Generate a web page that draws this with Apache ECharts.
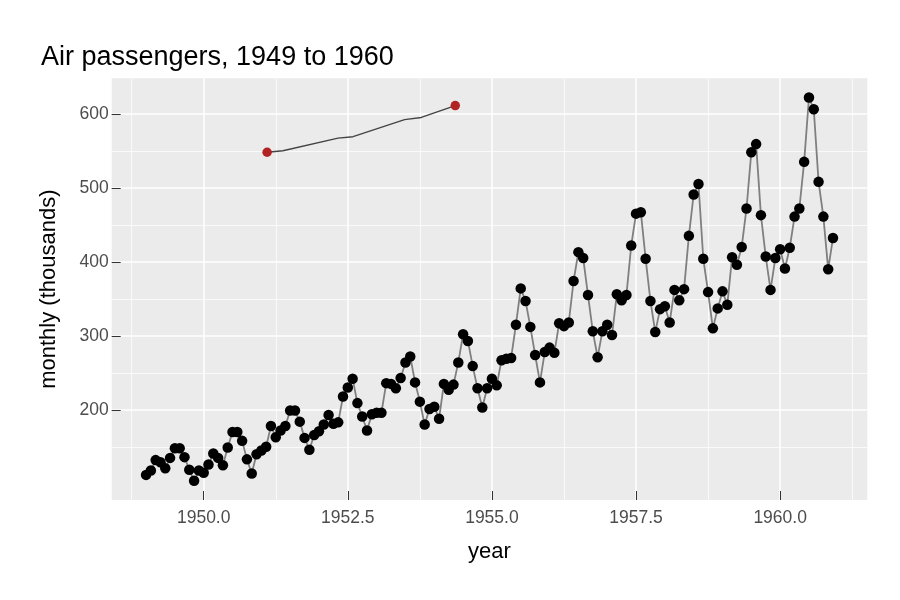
<!DOCTYPE html>
<html>
<head>
<meta charset="utf-8">
<script src="https://cdn.jsdelivr.net/npm/echarts@6/dist/echarts.min.js"></script>
<style>
  html, body { margin: 0; background: #fff; }
  #chart { width: 900px; height: 600px; }
</style>
</head>
<body>
<div id="chart"></div>
<script>
// monthly totals, Jan 1949 .. Dec 1960 (thousands)
const startYear = 1949;
const passengers = [
  112, 118, 132, 129, 121, 135, 148, 148, 136, 119, 104, 118,
  115, 126, 141, 135, 125, 149, 170, 170, 158, 133, 114, 140,
  145, 150, 178, 163, 172, 178, 199, 199, 184, 162, 146, 166,
  171, 180, 193, 181, 183, 218, 230, 242, 209, 191, 172, 194,
  196, 196, 236, 235, 229, 243, 264, 272, 237, 211, 180, 201,
  204, 188, 235, 227, 234, 264, 302, 293, 259, 229, 203, 229,
  242, 233, 267, 269, 270, 315, 364, 347, 312, 274, 237, 278,
  284, 277, 317, 313, 318, 374, 413, 405, 355, 306, 271, 306,
  315, 301, 356, 348, 355, 422, 465, 467, 404, 347, 305, 336,
  340, 318, 362, 348, 363, 435, 491, 505, 404, 359, 310, 337,
  360, 342, 406, 396, 420, 472, 548, 559, 463, 407, 362, 405,
  417, 391, 419, 461, 472, 535, 622, 606, 508, 461, 390, 432
];

// small annotation line with red end points
const noteX = [1951.10, 1951.375, 1952.33, 1952.59, 1953.485, 1953.775, 1954.364];
const noteY = [548, 550, 567, 569, 592, 595, 611];

const xTicks = [1950, 1952.5, 1955, 1957.5, 1960];
const xMinor = [1948.75, 1951.25, 1953.75, 1956.25, 1958.75, 1961.25];
const yTicks = [200, 300, 400, 500, 600];
const yMinor = [150, 250, 350, 450, 550];

const xMin = 1948.404, xMax = 1961.512;
const yMin = 78.1, yMax = 647.9;

const font = "'Liberation Sans', Arial, Helvetica, sans-serif";

const monthly = passengers.map((v, i) => [startYear + i / 12, v]);
const note = noteX.map((x, i) => [x, noteY[i]]);
const noteEnds = [note[0], note[note.length - 1]];

const chart = echarts.init(document.getElementById("chart"), null, { renderer: "canvas" });

const option = {
  animation: false,
  textStyle: { fontFamily: font },
  title: {
    text: "Air passengers, 1949 to 1960",
    left: 36,
    top: 39,
    textStyle: { fontFamily: font, fontSize: 27, fontWeight: "normal", color: "#000" }
  },
  grid: {
    show: true,
    left: 111.7,
    right: 32.7,
    top: 78.3,
    bottom: 100,
    backgroundColor: "#EBEBEB",
    borderWidth: 0
  },
  xAxis: [
    {
      type: "value",
      min: xMin,
      max: xMax,
      axisLine: { show: false },
      axisTick: {
        show: true, inside: true, length: 9, customValues: xTicks,
        lineStyle: { color: "#333", width: 1 }
      },
      axisLabel: {
        customValues: xTicks, margin: 9,
        formatter: (v) => v.toFixed(1),
        color: "#4D4D4D", fontSize: 17.5, fontFamily: font
      },
      splitLine: { show: true, lineStyle: { color: "#fff", width: 1.5 } },
      name: "year",
      nameLocation: "middle",
      nameGap: 41,
      nameTextStyle: { color: "#000", fontSize: 22, fontFamily: font }
    },
    {
      type: "value",
      min: xMin,
      max: xMax,
      axisLine: { show: false },
      axisTick: { show: false, customValues: xMinor },
      axisLabel: { show: false, customValues: xMinor },
      splitLine: { show: true, lineStyle: { color: "#fff", width: 0.75 } }
    }
  ],
  yAxis: [
    {
      type: "value",
      min: yMin,
      max: yMax,
      axisLine: { show: false },
      axisTick: {
        show: true, inside: true, length: 9, customValues: yTicks,
        lineStyle: { color: "#333", width: 1 }
      },
      axisLabel: {
        customValues: yTicks, margin: 3,
        color: "#4D4D4D", fontSize: 17.5, fontFamily: font
      },
      splitLine: { show: true, lineStyle: { color: "#fff", width: 1.5 } },
      name: "monthly (thousands)",
      nameLocation: "middle",
      nameGap: 52,
      nameTextStyle: { color: "#000", fontSize: 22, fontFamily: font }
    },
    {
      type: "value",
      min: yMin,
      max: yMax,
      axisLine: { show: false },
      axisTick: { show: false, customValues: yMinor },
      axisLabel: { show: false, customValues: yMinor },
      splitLine: { show: true, lineStyle: { color: "#fff", width: 0.75 } }
    }
  ],
  series: [
    {
      type: "line",
      data: monthly,
      symbol: "circle",
      symbolSize: 10.5,
      showSymbol: true,
      itemStyle: { color: "#000" },
      lineStyle: { color: "#7F7F7F", width: 1.8 },
      z: 3
    },
    {
      type: "line",
      data: note,
      showSymbol: false,
      lineStyle: { color: "#444", width: 1.4 },
      z: 3
    },
    {
      type: "scatter",
      data: noteEnds,
      symbolSize: 9.5,
      itemStyle: { color: "#B22222", opacity: 1 },
      z: 4
    }
  ]
};

chart.setOption(option);
</script>
</body>
</html>
